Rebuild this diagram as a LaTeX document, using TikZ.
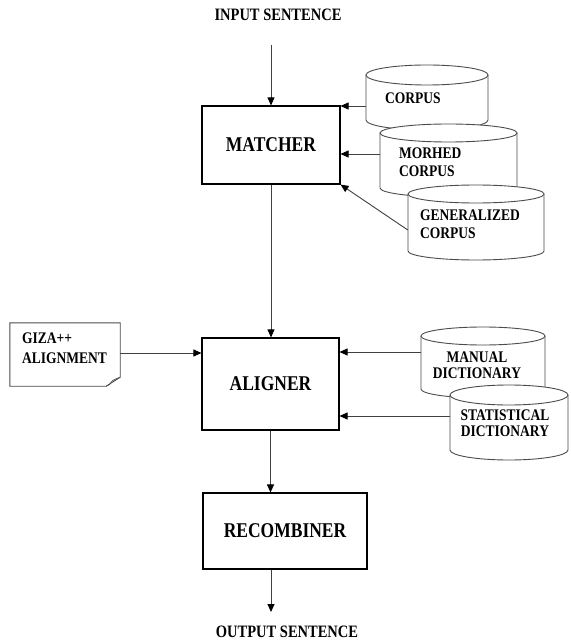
\documentclass[tikz,border=0pt]{standalone}
\usepackage{fontspec}
\setmainfont{Liberation Serif}
\usetikzlibrary{arrows.meta}
\newcommand\tallT[1]{\scalebox{1}[1.2]{#1}}
\tikzset{
  procbox/.style={draw=black, line width=1.1pt, fill=white, inner sep=0pt,
    font=\fontsize{17.5}{20}\selectfont\bfseries},
  lbl/.style={font=\fontsize{14.5}{16}\selectfont\bfseries, inner sep=0pt},
  cyltext/.style={font=\fontsize{13.5}{18}\selectfont\bfseries, inner sep=0pt, align=left},
  dicttext/.style={font=\fontsize{13.5}{16}\selectfont\bfseries, inner sep=0pt, align=center},
  flow/.style={draw=black!75, line width=0.9pt, -{Triangle[length=8pt,width=7pt,color=black]}},
  cylline/.style={draw=black!70, line width=0.9pt},
}
\newcommand\dbcyl[6]{%
  \path[cylline, fill=white] ({#2-#5},#3) -- ({#2-#5},#4)
    .. controls ({#2-#5},{#4+0.5523*#6}) and ({#2-0.5523*#5},{#4+#6}) .. (#2,{#4+#6})
    .. controls ({#2+0.5523*#5},{#4+#6}) and ({#2+#5},{#4+0.5523*#6}) .. ({#2+#5},#4)
    -- ({#2+#5},#3);
  \path[cylline, fill=white] (#2,#3) ellipse [x radius=#5, y radius=#6];
  \node[inner sep=0pt, minimum width={2*#5*1pt}, minimum height={(#4-#3)*1pt}] (#1) at (#2,{(#3+#4)/2}) {};
}
\begin{document}
\begin{tikzpicture}[x=1pt,y=-1pt]
\useasboundingbox (0,0) rectangle (570,644);
\fill[white] (0,0) rectangle (570,644);

% labels
\node[lbl] (input) at (278,15) {\tallT{INPUT SENTENCE}};
\node[lbl] (output) at (287,632) {\tallT{OUTPUT SENTENCE}};

% process boxes
\node[procbox, minimum width=138pt, minimum height=78pt] (matcher) at (271,145) {\tallT{MATCHER}};
\node[procbox, minimum width=137pt, minimum height=92pt] (aligner) at (270.5,384) {\tallT{ALIGNER}};
\node[procbox, minimum width=164pt, minimum height=76pt] (recomb) at (285,531) {\tallT{RECOMBINER}};

% corpus cylinders
\dbcyl{corpus}{427}{75}{120}{61}{10}
\node[cyltext, anchor=west] (corpustext) at (385,98) {\tallT{CORPUS}};
\dbcyl{morhed}{448.5}{133}{188}{68.5}{9}
\node[cyltext, anchor=west] (morhedtext) at (399,162.5) {\tallT{MORHED}\\\tallT{CORPUS}};
\dbcyl{gen}{476}{194}{251}{68}{9}
\node[cyltext, anchor=west] (gentext) at (420,224) {\tallT{GENERALIZED}\\\tallT{CORPUS}};

% dictionary cylinders
\dbcyl{manual}{483}{336}{389}{62}{9}
\node[dicttext] (manualtext) at (477,365) {\tallT{MANUAL}\\\tallT{DICTIONARY}};
\dbcyl{stat}{509}{395}{450}{59}{10}
\node[dicttext] (stattext) at (505,423.5) {\tallT{STATISTICAL}\\\tallT{DICTIONARY}};

% GIZA++ document
\node[inner sep=0pt, minimum width=110pt, minimum height=63pt] (giza) at (65,354.5) {};
\draw[black!70, line width=0.9pt, fill=white]
  (giza.north west) -- (giza.north east) -- ([yshift=9pt]giza.south east)
  -- ([xshift=-14pt]giza.south east) -- (giza.south west) -- cycle;
\draw[black!70, line width=0.7pt]
  ([yshift=9pt]giza.south east) .. controls ([xshift=-5pt,yshift=7pt]giza.south east) and ([xshift=-8pt,yshift=6pt]giza.south east) .. ([xshift=-9pt,yshift=4pt]giza.south east)
  .. controls ([xshift=-10pt,yshift=2pt]giza.south east) .. ([xshift=-14pt]giza.south east);
\node[font=\fontsize{13.5}{20}\selectfont\bfseries, inner sep=0pt, align=left, anchor=west] (gizatext) at (22,348) {\tallT{GIZA++}\\\tallT{ALIGNMENT}};

% connectors
\coordinate (inS) at (271,45);
\draw[flow] (inS) -- (inS |- matcher.north);
\draw[flow] (matcher.south) -- (matcher.south |- aligner.north);
\draw[flow] (aligner.south) -- (aligner.south |- recomb.north);
\coordinate (outE) at (271,612);
\draw[flow] (outE |- recomb.south) -- (outE);

\draw[flow] (corpus.west |- 0,106) -- (matcher.east |- 0,106);
\draw[flow] (morhed.west |- 0,154) -- (matcher.east |- 0,154);
\draw[flow] (gen.west |- 0,230) -- (matcher.south east);

\draw[flow] (giza.east |- 0,353) -- (aligner.west |- 0,353);
\draw[flow] (manual.west |- 0,352) -- (aligner.east |- 0,352);
\draw[flow] (stat.west |- 0,416) -- (aligner.east |- 0,416);
\end{tikzpicture}
\end{document}
